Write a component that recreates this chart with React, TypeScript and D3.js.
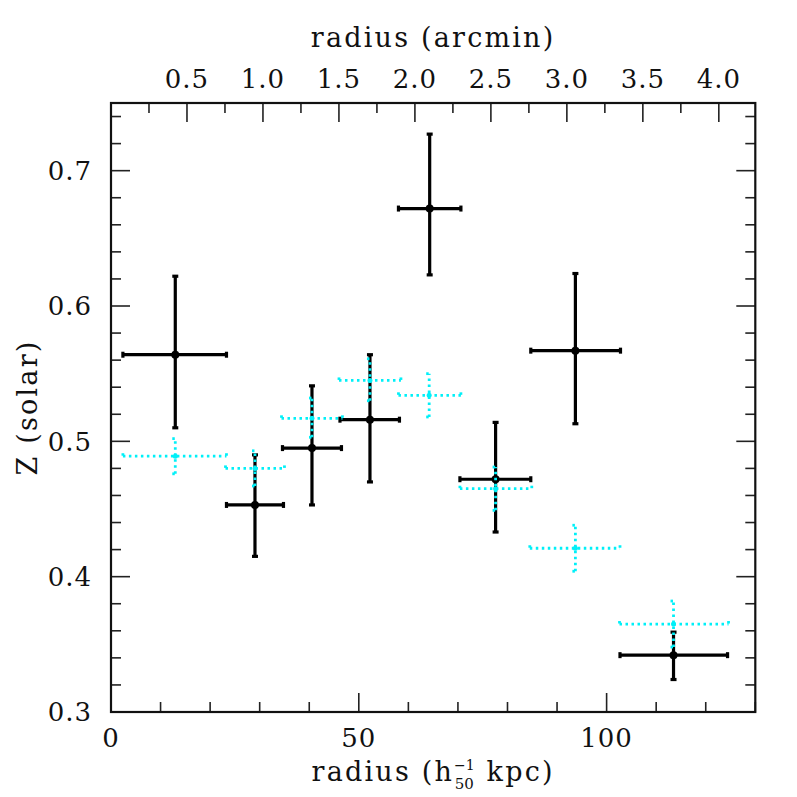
import React from "react";
import * as d3 from "d3";

// radius in h50^-1 kpc, metallicity in solar units
const blackR = [12.97, 29.05, 40.55, 52.25, 64.3, 77.6, 93.7, 113.5];
const blackRLo = [2.4, 23.3, 34.6, 46.2, 58.0, 70.4, 84.7, 102.7];
const blackRHi = [23.3, 34.8, 46.5, 58.2, 70.6, 84.7, 102.8, 124.4];
const blackZ = [0.564, 0.453, 0.495, 0.516, 0.672, 0.472, 0.567, 0.342];
const blackZLo = [0.51, 0.415, 0.453, 0.47, 0.623, 0.433, 0.513, 0.324];
const blackZHi = [0.622, 0.49, 0.541, 0.564, 0.727, 0.514, 0.624, 0.359];

const cyanR = [12.97, 29.05, 40.55, 52.25, 64.2, 77.6, 93.7, 113.5];
const cyanRLo = [2.4, 23.1, 34.4, 46.0, 58.0, 70.4, 84.5, 102.6];
const cyanRHi = [23.3, 35.0, 46.7, 58.5, 70.6, 84.9, 102.7, 124.6];
const cyanZ = [0.489, 0.48, 0.517, 0.545, 0.534, 0.465, 0.421, 0.365];
const cyanZLo = [0.476, 0.467, 0.503, 0.53, 0.518, 0.449, 0.404, 0.348];
const cyanZHi = [0.502, 0.493, 0.532, 0.561, 0.55, 0.481, 0.438, 0.382];

const xTickLabels = [0, 50, 100];
const yTickLabels = [0.3, 0.4, 0.5, 0.6, 0.7];
const arcTickLabels = [0.5, 1.0, 1.5, 2.0, 2.5, 3.0, 3.5, 4.0];

const kpcPerArcmin = 30.66;

const FONT = "DejaVu Serif";

export default function App() {
  const left = 111, right = 755.3, top = 103, bottom = 712;
  const x = d3.scaleLinear().domain([0, 130]).range([left, right]);
  const xArc = d3.scaleLinear().domain([0, 130 / kpcPerArcmin]).range([left, right]);
  const y = d3.scaleLinear().domain([0.3, 0.75]).range([bottom, top]);

  const xMinor = d3.range(0, 131, 10);
  const arcMinor = d3.range(0.25, 4.24, 0.25);
  const yMinor = d3.range(0.3, 0.751, 0.02);
  const maj = 19, mnr = 10;
  const isMaj = (v: number, list: number[]) => list.some((t) => Math.abs(t - v) < 1e-6);

  const errBars = (
    r: number[], rl: number[], rh: number[], z: number[], zl: number[], zh: number[],
    color: string, dash: string | undefined, w: number, dotR: number, key: string
  ) =>
    r.map((rv, i) => (
      <g key={key + i} stroke={color} strokeWidth={w} strokeDasharray={dash} fill="none">
        <line x1={x(rl[i])} x2={x(rh[i])} y1={y(z[i])} y2={y(z[i])} />
        <line x1={x(rv)} x2={x(rv)} y1={y(zl[i])} y2={y(zh[i])} />
        <line x1={x(rl[i])} x2={x(rl[i])} y1={y(z[i]) - 3} y2={y(z[i]) + 3} strokeDasharray={undefined} />
        <line x1={x(rh[i])} x2={x(rh[i])} y1={y(z[i]) - 3} y2={y(z[i]) + 3} strokeDasharray={undefined} />
        <line x1={x(rv) - 3} x2={x(rv) + 3} y1={y(zl[i])} y2={y(zl[i])} strokeDasharray={undefined} />
        <line x1={x(rv) - 3} x2={x(rv) + 3} y1={y(zh[i])} y2={y(zh[i])} strokeDasharray={undefined} />
        <circle cx={x(rv)} cy={y(z[i])} r={dotR} fill={color} stroke="none" />
      </g>
    ));

  return (
    <svg width={797} height={797} style={{ position: "absolute", left: 0, top: 0 }} fontFamily={FONT}>
      <rect width={797} height={797} fill="white" />

      {/* bottom ticks (kpc) */}
      {xMinor.map((v) => {
        const len = isMaj(v, xTickLabels) ? maj : mnr;
        return <line key={"xb" + v} x1={x(v)} x2={x(v)} y1={bottom} y2={bottom - len} stroke="#222" strokeWidth={1.6} />;
      })}
      {/* top ticks (arcmin) */}
      {arcMinor.map((v) => {
        const len = isMaj(v, arcTickLabels) ? maj : mnr;
        return <line key={"xt" + v} x1={xArc(v)} x2={xArc(v)} y1={top} y2={top + len} stroke="#222" strokeWidth={1.6} />;
      })}
      {/* left/right ticks */}
      {yMinor.map((v) => {
        const len = isMaj(Math.round(v * 100) / 100, yTickLabels) ? maj : mnr;
        return (
          <g key={"y" + v} stroke="#222" strokeWidth={1.6}>
            <line x1={left} x2={left + len} y1={y(v)} y2={y(v)} />
            <line x1={right} x2={right - len} y1={y(v)} y2={y(v)} />
          </g>
        );
      })}

      {/* data: black first, cyan dotted on top */}
      {errBars(blackR, blackRLo, blackRHi, blackZ, blackZLo, blackZHi, "#000", undefined, 3.2, 4, "b")}
      {errBars(cyanR, cyanRLo, cyanRHi, cyanZ, cyanZLo, cyanZHi, "#00f0f8", "2.5,3.5", 2.8, 2.5, "c")}

      {/* frame */}
      <rect x={left} y={top} width={right - left} height={bottom - top} fill="none" stroke="#111" strokeWidth={2.2} />

      {/* tick labels */}
      {xTickLabels.map((v) => (
        <text key={"xl" + v} x={x(v)} y={747} textAnchor="middle" fontSize={26} letterSpacing={1} fill="#111">{v}</text>
      ))}
      {arcTickLabels.map((v) => (
        <text key={"al" + v} x={xArc(v)} y={88} textAnchor="middle" fontSize={26} letterSpacing={1} fill="#111">{v.toFixed(1)}</text>
      ))}
      {yTickLabels.map((v) => (
        <text key={"yl" + v} x={92} y={y(v)} dy="0.36em" textAnchor="end" fontSize={26} letterSpacing={1} fill="#111">{v.toFixed(1)}</text>
      ))}

      {/* axis titles */}
      <text x={(left + right) / 2} y={47} textAnchor="middle" fontSize={27} letterSpacing={2.2} fill="#111">radius (arcmin)</text>
      <text x={(left + right) / 2} y={781} textAnchor="middle" fontSize={27} letterSpacing={2.2} fill="#111">
        radius (h
        <tspan fontSize={14} letterSpacing={0} dy={-11}>−1</tspan>
        <tspan fontSize={15} letterSpacing={0} dx={-20} dy={19}>50</tspan>
        <tspan dx={2} dy={-8}> kpc)</tspan>
      </text>
      <text transform={`translate(37,${(top + bottom) / 2}) rotate(-90)`} textAnchor="middle" fontSize={27} letterSpacing={2.2} fill="#111">Z (solar)</text>
    </svg>
  );
}
